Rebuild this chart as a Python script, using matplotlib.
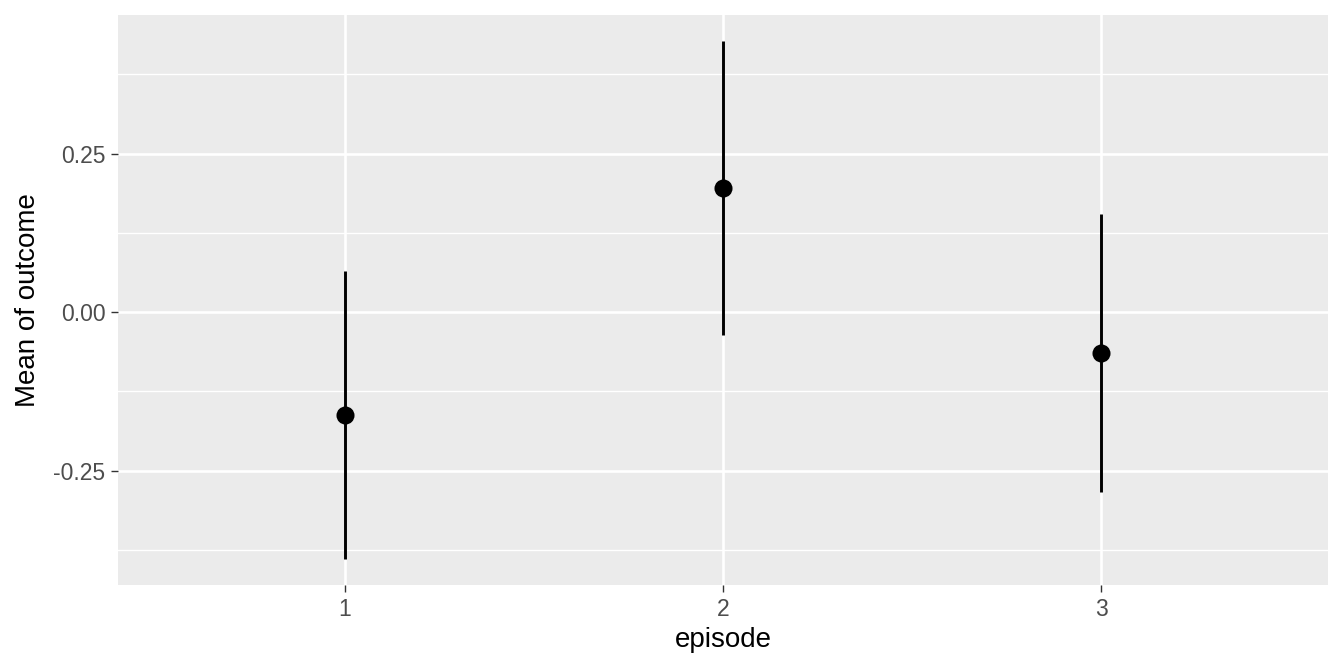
import matplotlib
matplotlib.use("Agg")
import matplotlib.pyplot as plt
import numpy as np

plt.rcParams['font.family'] = ['Liberation Sans', 'DejaVu Sans']

# data
episodes = ["1", "2", "3"]
mean_outcome = [-0.1625, 0.195, -0.0640]
ci_low = [-0.390, -0.0365, -0.2835]
ci_high = [0.0647, 0.428, 0.1546]

y_ticks = [-0.25, 0.0, 0.25]
y_tick_labels = ["-0.25", "0.00", "0.25"]
y_minor = [-0.375, -0.125, 0.125, 0.375]

fig = plt.figure(figsize=(13.44, 6.72), dpi=100)
ax = fig.add_axes([118 / 1344, 87 / 672, 1210 / 1344, 570 / 672])
ax.set_facecolor("#EBEBEB")
for s in ax.spines.values():
    s.set_visible(False)

x = np.arange(1, len(episodes) + 1)

# grid
for y in y_minor:
    ax.axhline(y, color="white", lw=1.0, zorder=0)
for y in y_ticks:
    ax.axhline(y, color="white", lw=1.9, zorder=0)
for xi in x:
    ax.axvline(xi, color="white", lw=1.9, zorder=0)

ax.vlines(x, ci_low, ci_high, color="black", lw=2.1, zorder=2)
ax.plot(x, mean_outcome, "o", color="black", markersize=13, markeredgewidth=0, zorder=3)

ax.set_xlim(0.4, 3.6)
ax.set_ylim(-0.4306, 0.4685)
ax.set_xticks(x)
ax.set_xticklabels(episodes)
ax.set_yticks(y_ticks)
ax.set_yticklabels(y_tick_labels)
ax.tick_params(axis="both", colors="#333333", labelcolor="#4D4D4D",
               labelsize=16.5, length=5, width=1.0, pad=4)

ax.set_xlabel("episode", fontsize=20, color="black", labelpad=5)
ax.set_ylabel("Mean of outcome", fontsize=20, color="black", labelpad=9)

fig.savefig("out.png", dpi=100, facecolor="white")
